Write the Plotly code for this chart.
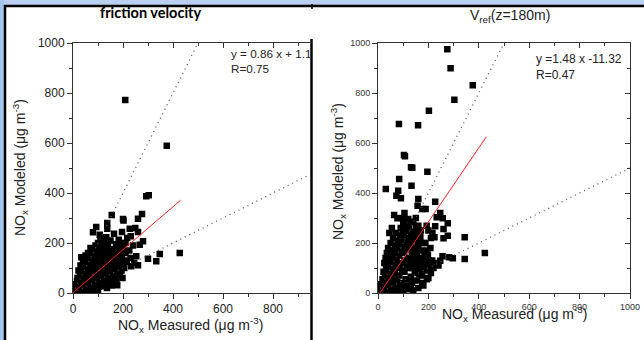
import plotly.graph_objects as go

W, H = 644, 340

# ---------------- data ----------------
left_x = [209, 375, 293, 303, 155, 200, 202, 276, 260, 137, 93, 80, 107, 137, 133, 164, 183, 196, 227, 249,
          231, 217, 260, 280, 267, 120, 180, 193, 167, 153, 137, 113, 84, 33, 253, 300, 347, 427, 333, 260,
          233, 207, 193, 177, 160, 127,
          5, 10, 15, 20, 25, 30, 35, 40, 45, 50, 55, 60, 65, 70, 75, 80, 85, 90, 95, 100, 105, 110, 115, 120,
          125, 130, 135, 140, 145, 150, 155, 160, 165, 170, 175, 180, 185, 190,
          18, 22, 28, 38, 42, 48, 52, 58, 62, 68, 72, 78, 82, 88, 92, 98, 102, 108, 112, 118, 122, 128, 132,
          138, 142, 148, 152, 158, 162, 168, 172, 178, 188, 195, 205, 210, 215,
          12, 16, 26, 32, 36, 44, 46, 54, 56, 64, 66, 74, 76, 86, 94, 96, 104, 106, 114, 116, 124, 126, 134,
          136, 144, 146, 154, 156, 164, 166, 174, 176, 184, 186, 194, 198,
          30, 40, 50, 60, 70, 90, 100, 110, 125, 140, 150, 60, 80, 100, 50, 25, 8, 70, 160, 120, 88, 62, 44,
          200, 210, 225, 240, 190, 230, 245, 155, 100, 130, 170, 140]
left_y = [772, 589, 387, 391, 312, 296, 290, 316, 297, 280, 264, 243, 233, 257, 223, 237, 213, 244, 257, 260,
          227, 220, 244, 207, 193, 191, 187, 177, 167, 153, 156, 156, 173, 143, 147, 137, 156, 160, 127, 111,
          107, 124, 116, 31, 73, 27,
          5, 15, 3, 25, 10, 40, 20, 5, 55, 30, 15, 70, 45, 25, 8, 90, 60, 35, 15, 110, 80, 50, 30, 130,
          95, 65, 40, 120, 85, 55, 100, 140, 110, 80, 130, 150, 95, 120,
          60, 90, 75, 100, 80, 120, 95, 110, 130, 100, 140, 120, 150, 130, 105, 160, 140, 175, 120, 100, 165,
          145, 180, 135, 105, 170, 130, 75, 50, 150, 195, 115, 70, 140, 100, 160, 130,
          35, 48, 55, 12, 65, 30, 12, 45, 75, 20, 85, 55, 40, 20, 75, 50, 25, 65, 70, 45, 60, 35, 85,
          20, 45, 70, 30, 120, 95, 60, 45, 100, 130, 165, 90, 60,
          110, 130, 150, 160, 180, 190, 200, 215, 205, 195, 210, 5, 3, 8, 2, 30, 25, 150, 160, 85, 95, 60, 100,
          180, 200, 170, 190, 200, 140, 120, 175, 90, 110, 130, 150]

right_x = [275, 288, 376, 303, 202, 83, 159, 107, 136, 103, 131, 196, 84, 133, 31, 80, 73, 91, 160, 227,
           157, 176, 189, 64, 77, 120, 131, 247, 233, 257, 277, 160, 193, 227, 260, 216, 224, 260, 277, 344,
           424, 344, 297, 283, 256, 247, 227, 193, 176,
           5, 10, 15, 20, 25, 30, 35, 40, 45, 50, 55, 60, 65, 70, 75, 80, 85, 90, 95, 100, 105, 110, 115, 120,
           125, 130, 135, 140, 145, 150, 155, 160, 165, 170, 175, 180, 185, 190, 195, 200,
           18, 22, 28, 32, 38, 42, 48, 52, 58, 62, 68, 72, 78, 82, 88, 92, 98, 102, 108, 112, 118, 122, 128,
           132, 138, 142, 148, 152, 158, 162, 168, 172, 178, 188, 198, 205, 210, 215, 220,
           12, 26, 36, 44, 54, 56, 64, 66, 74, 76, 84, 86, 94, 96, 104, 106, 114, 116, 124, 126, 134, 136,
           144, 146, 154, 156, 164, 166, 174, 176, 184, 194, 196, 202, 208, 230, 240, 180, 160, 140, 120,
           100, 80, 60, 130, 110, 90, 70, 50,
           40, 50, 60, 70, 90, 100, 110, 140, 150, 170, 45, 55, 35, 30, 25, 95, 105, 150, 200, 210]
right_y = [975, 899, 831, 773, 729, 676, 671, 547, 501, 552, 503, 485, 456, 429, 416, 409, 389, 379, 376, 365,
           349, 336, 336, 312, 299, 296, 283, 320, 303, 299, 279, 269, 269, 267, 256, 240, 223, 219, 229, 223,
           160, 136, 139, 143, 147, 129, 112, 112, 39,
           3, 12, 5, 25, 10, 45, 20, 5, 60, 35, 15, 80, 50, 25, 8, 100, 70, 40, 15, 120, 85, 55, 30, 140,
           100, 65, 40, 160, 120, 80, 50, 180, 140, 100, 70, 200, 160, 120, 90, 60,
           55, 85, 70, 110, 95, 130, 150, 120, 170, 140, 190, 160, 210, 180, 230, 200, 250, 220, 190, 240, 210,
           260, 230, 195, 245, 215, 180, 230, 200, 250, 225, 170, 140, 200, 150, 110, 80, 130, 100,
           35, 30, 50, 85, 60, 100, 110, 75, 130, 45, 150, 115, 170, 90, 160, 130, 110, 180, 120, 175, 150, 100,
           140, 90, 160, 110, 75, 120, 130, 40, 95, 55, 170, 130, 180, 120, 110, 30, 20, 10, 15,
           5, 3, 2, 25, 20, 10, 15, 5,
           180, 200, 220, 240, 260, 280, 270, 285, 260, 250, 240, 260, 160, 140, 120, 300, 320, 300, 250, 220]

# fit lines: slope, intercept, x extent
left_fit = (0.86, 1.1, [0, 430])
right_fit = (1.48, -11.32, [8, 430])
ref_slopes = [2.0, 0.5]
left_xmax = 948
right_xmax = 1000
ticks = [0, 200, 400, 600, 800, 1000]

FONT = "Liberation Sans"

# ---------------- figure ----------------
def px(x):
    return x / W

def py(y):
    return 1 - y / H

fig = go.Figure()

ydom = [py(293), py(43)]
dot_style = dict(color="#555", width=1.3, dash="1px,4px")
marker_style = dict(symbol="square", size=6.5, color="black", line=dict(width=0))

# left panel
fig.add_trace(go.Scatter(x=left_x, y=left_y, mode="markers", xaxis="x", yaxis="y",
                         marker=marker_style, showlegend=False))
for s in ref_slopes:
    xe = [0, left_xmax]
    fig.add_trace(go.Scatter(x=xe, y=[s * v for v in xe], mode="lines", xaxis="x", yaxis="y",
                             line=dot_style, showlegend=False))
a, b, xr = left_fit
fig.add_trace(go.Scatter(x=xr, y=[a * v + b for v in xr], mode="lines", xaxis="x", yaxis="y",
                         line=dict(color="#ff2020", width=1), showlegend=False))

# right panel
fig.add_trace(go.Scatter(x=right_x, y=right_y, mode="markers", xaxis="x2", yaxis="y2",
                         marker=marker_style, showlegend=False))
for s in ref_slopes:
    xe = [0, right_xmax]
    fig.add_trace(go.Scatter(x=xe, y=[s * v for v in xe], mode="lines", xaxis="x2", yaxis="y2",
                             line=dot_style, showlegend=False))
a, b, xr = right_fit
fig.add_trace(go.Scatter(x=xr, y=[a * v + b for v in xr], mode="lines", xaxis="x2", yaxis="y2",
                         line=dict(color="#ff2020", width=1), showlegend=False))

# dummy traces for overlay axes
fig.add_trace(go.Scatter(x=[], y=[], xaxis="x3", yaxis="y", showlegend=False))
fig.add_trace(go.Scatter(x=[], y=[], xaxis="x4", yaxis="y2", showlegend=False))
fig.add_trace(go.Scatter(x=[], y=[], xaxis="x2", yaxis="y3", showlegend=False))

common = dict(showgrid=False, zeroline=False, showline=True, linecolor="#333", linewidth=1,
              tickcolor="#333", tickwidth=1, automargin=False)

big = dict(family=FONT, size=12, color="#222")
small = dict(family=FONT, size=9, color="#333")

fig.update_layout(
    width=W, height=H, autosize=False,
    margin=dict(l=0, r=0, t=0, b=0, pad=0),
    paper_bgcolor="#b9d0f1", plot_bgcolor="white",
    xaxis=dict(domain=[px(73), px(310)], range=[0, left_xmax], anchor="y",
               tickvals=ticks[:-1], ticks="outside", ticklen=5, tickfont=big,
               minor=dict(dtick=100, ticks="outside", ticklen=3, tickcolor="#333"), **common),
    yaxis=dict(domain=ydom, range=[0, 1000], anchor="x",
               tickvals=ticks, ticks="outside", ticklen=5, tickfont=big,
               minor=dict(dtick=100, ticks="outside", ticklen=3, tickcolor="#333"), **common),
    xaxis3=dict(overlaying="x", side="top", anchor="y", range=[0, left_xmax], matches="x",
                tickvals=ticks[:-1], ticks="inside", ticklen=5, showticklabels=False,
                minor=dict(dtick=100, ticks="inside", ticklen=3, tickcolor="#333"), **common),
    xaxis2=dict(domain=[px(378), px(630)], range=[0, right_xmax], anchor="y2",
                tickvals=ticks, ticks="outside", ticklen=5, tickfont=small,
                minor=dict(dtick=100, ticks="outside", ticklen=3, tickcolor="#333"), **common),
    yaxis2=dict(domain=ydom, range=[0, 1000], anchor="x2",
                tickvals=ticks, ticks="outside", ticklen=5, tickfont=small,
                minor=dict(dtick=100, ticks="outside", ticklen=3, tickcolor="#333"), **common),
    xaxis4=dict(overlaying="x2", side="top", anchor="y2", range=[0, right_xmax],
                tickvals=ticks, ticks="inside", ticklen=5, showticklabels=False,
                minor=dict(dtick=100, ticks="inside", ticklen=3, tickcolor="#333"), **common),
    yaxis3=dict(overlaying="y2", side="right", anchor="x2", range=[0, 1000],
                tickvals=ticks, ticks="inside", ticklen=5, showticklabels=False,
                minor=dict(dtick=100, ticks="inside", ticklen=3, tickcolor="#333"), **common),
)

shapes = [
    dict(type="rect", xref="paper", yref="paper", x0=px(5), x1=1.01, y0=-0.01, y1=py(6),
         fillcolor="white", line=dict(width=0), layer="below"),
    dict(type="rect", xref="paper", yref="paper", x0=0, x1=px(4), y0=-0.01, y1=1.01,
         fillcolor="#a3c6ee", line=dict(width=0), layer="below"),
    dict(type="line", xref="paper", yref="paper", x0=px(4), x1=1.01, y0=py(6), y1=py(6),
         line=dict(color="black", width=2.5), layer="above"),
    dict(type="line", xref="paper", yref="paper", x0=px(5), x1=px(5), y0=py(5), y1=-0.01,
         line=dict(color="black", width=2.5), layer="above"),
    dict(type="line", xref="paper", yref="paper", x0=px(311.5), x1=px(311.5), y0=py(39), y1=-0.01,
         line=dict(color="black", width=2.5), layer="above"),
    dict(type="line", xref="paper", yref="paper", x0=px(312), x1=px(312), y0=py(4), y1=py(9),
         line=dict(color="black", width=1.5), layer="above"),
]
fig.update_layout(shapes=shapes)

title_font = dict(family=FONT, size=14, color="#222")
ann = [
    dict(text="<b>friction velocity</b>", x=px(150), y=py(13), font=dict(family="Lato", size=14.5, color="black")),
    dict(text="V<sub>ref</sub>(z=180m)", x=px(510), y=py(16), font=dict(family=FONT, size=14, color="#222")),
    dict(text="NO<sub>x</sub> Modeled (μg m<sup>-3</sup>)", x=px(20), y=py(168), textangle=-90, font=title_font),
    dict(text="NO<sub>x</sub> Measured (μg m<sup>-3</sup>)", x=px(190), y=py(325), font=title_font),
    dict(text="NO<sub>x</sub> Modeled (μg m<sup>-3</sup>)", x=px(338), y=py(172), textangle=-90, font=title_font),
    dict(text="NO<sub>x</sub> Measured (μg m<sup>-3</sup>)", x=px(514), y=py(314), font=title_font),
    dict(text="y = 0.86 x + 1.1<br>R=0.75", x=px(229), y=py(61), xanchor="left", align="left",
         font=dict(family=FONT, size=11.7, color="#222")),
    dict(text="y =1.48 x -11.32<br>R=0.47", x=px(534), y=py(67), xanchor="left", align="left",
         font=dict(family=FONT, size=12, color="#222")),
]
for a_ in ann:
    a_.setdefault("xanchor", "center")
    a_.update(xref="paper", yref="paper", yanchor="middle", showarrow=False)
fig.update_layout(annotations=ann)

fig.write_html("out.html")
